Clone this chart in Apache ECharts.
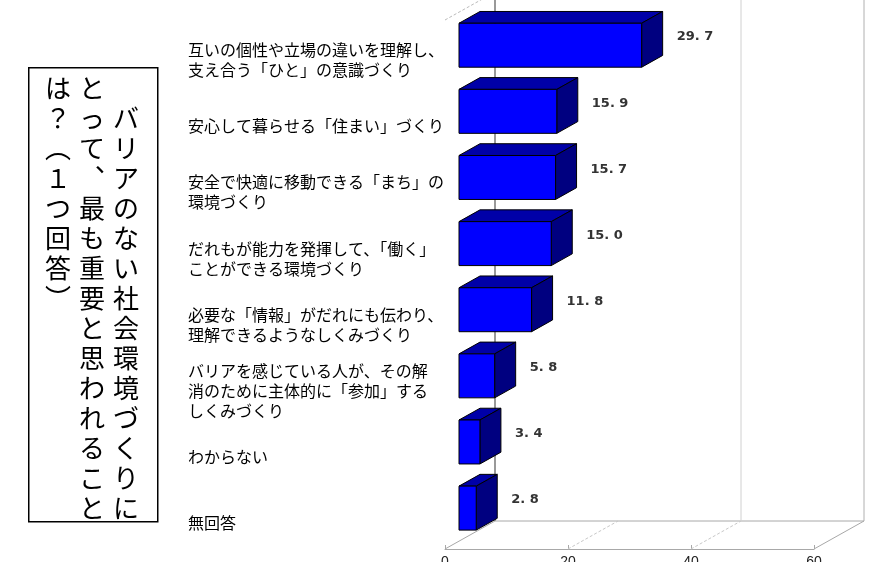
<!DOCTYPE html>
<html><head><meta charset="utf-8">
<script src="https://cdn.jsdelivr.net/npm/echarts@6/dist/echarts.min.js"></script>
<style>html,body{margin:0;padding:0;background:#fff;overflow:hidden}#c{width:875px;height:562px}</style>
</head><body><div id="c"></div>
<script>
const categories = [
  '互いの個性や立場の違いを理解し、\n支え合う「ひと」の意識づくり',
  '安心して暮らせる「住まい」づくり',
  '安全で快適に移動できる「まち」の\n環境づくり',
  'だれもが能力を発揮して、「働く」\nことができる環境づくり',
  '必要な「情報」がだれにも伝わり、\n理解できるようなしくみづくり',
  'バリアを感じている人が、その解\n消のために主体的に「参加」する\nしくみづくり',
  'わからない',
  '無回答'
];
const values = [29.7, 15.9, 15.7, 15.0, 11.8, 5.8, 3.4, 2.8];
const valueMin = 0, valueMax = 60, valueStep = 20;
const floorDashTicks = [20, 40];
const backWallTicks = [40, 60];
const titleColumns = ['　バリアのない社会環境づくりに', 'とって︑最も重要と思われること', 'は？︵１つ回答︶'];

const DX = 50, DY = -28;          // depth vector of the 3D box
const BF = 0.28, BB = 0.70;       // bar front / back depth fractions
const LABEL_GAP = 257, LABEL_DY = 7;

const chart = echarts.init(document.getElementById('c'));

function frameRender(params, api) {
  const cs = params.coordSys;
  const yF = cs.y + cs.height, yB = yF + DY;
  const lineStyle = {stroke: '#a8a8a8', lineWidth: 1};
  const children = [];
  const x0 = api.coord([valueMin, 0])[0];
  const xM = api.coord([valueMax, 0])[0];
  children.push({type: 'polyline', shape: {points: [[x0, yF], [x0 + DX, yB], [xM + DX, yB], [xM, yF]]}, style: Object.assign({fill: null}, lineStyle)});
  floorDashTicks.forEach(v => {
    const x = api.coord([v, 0])[0];
    children.push({type: 'line', shape: {x1: x, y1: yF, x2: x + DX, y2: yB}, style: {stroke: '#c8c8c8', lineWidth: 1, lineDash: [3, 2]}});
  });
  backWallTicks.forEach(v => {
    const x = api.coord([v, 0])[0] + DX;
    children.push({type: 'line', shape: {x1: x, y1: yB, x2: x, y2: cs.y + DY}, style: {stroke: v === valueMax ? '#b0b0b0' : '#d0d0d0', lineWidth: 1}});
  });
  children.push({type: 'line', shape: {x1: x0 + DX, y1: yB, x2: x0 + DX, y2: cs.y + DY}, style: {stroke: '#999', lineWidth: 2}});
  children.push({type: 'line', shape: {x1: x0, y1: cs.y, x2: x0 + DX, y2: cs.y + DY}, style: {stroke: '#bbb', lineWidth: 1, lineDash: [3, 2]}});
  return {type: 'group', children};
}

function barRender(params, api) {
  const i = api.value(0), v = api.value(1);
  const p0 = api.coord([0, i]);
  const p1 = api.coord([v, i]);
  const h = api.size([0, 1])[1] * 0.665;
  const fx = DX * BF, fy = DY * BF, bx = DX * BB, by = DY * BB;
  const xl = p0[0] + fx, xr = p1[0] + fx;
  const yt = p0[1] + fy - h / 2, yb = p0[1] + fy + h / 2;
  const ddx = bx - fx, ddy = by - fy;
  const edge = {stroke: '#000', lineWidth: 1};
  const label = v.toFixed(1).replace('.', '. ');
  return {type: 'group', children: [
    {type: 'polygon', shape: {points: [[xl, yt], [xr, yt], [xr + ddx, yt + ddy], [xl + ddx, yt + ddy]]}, style: Object.assign({fill: '#0000a8'}, edge)},
    {type: 'polygon', shape: {points: [[xr, yt], [xr + ddx, yt + ddy], [xr + ddx, yb + ddy], [xr, yb]]}, style: Object.assign({fill: '#000080'}, edge)},
    {type: 'rect', shape: {x: xl, y: yt, width: xr - xl, height: h}, style: Object.assign({fill: '#0000ff'}, edge)},
    {type: 'text', x: xr + ddx + 14, y: p0[1] - 16, style: {text: label, fill: '#333', font: 'bold 13px "DejaVu Sans"', textAlign: 'left', textVerticalAlign: 'middle'}},
    {type: 'text', x: p0[0] - LABEL_GAP, y: p0[1] + LABEL_DY, style: {text: categories[i], fill: '#000', font: '16px "Noto Sans CJK JP"', lineHeight: 20, textAlign: 'left', textVerticalAlign: 'middle'}}
  ]};
}

const graphics = [{type: 'rect', left: 28, top: 67, shape: {width: 129, height: 454}, style: {fill: '#fff', stroke: '#000', lineWidth: 1.5}}];
titleColumns.forEach((col, k) => {
  graphics.push({type: 'text', left: 113 - k * 34, top: 73,
    style: {text: Array.from(col).join('\n'), font: '26px "Noto Sans CJK JP"', lineHeight: 30, fill: '#000', textAlign: 'center'}});
});

chart.setOption({
  animation: false,
  backgroundColor: '#fff',
  grid: {left: 445, right: 61, top: 20, bottom: 13, containLabel: false, outerBoundsMode: 'none'},
  xAxis: {type: 'value', min: valueMin, max: valueMax, interval: valueStep,
    axisLine: {show: true, lineStyle: {color: '#a8a8a8'}},
    axisTick: {show: true, inside: true, length: 4, lineStyle: {color: '#a8a8a8'}},
    splitLine: {show: false},
    axisLabel: {margin: 6, fontSize: 14, color: '#222', fontFamily: 'Liberation Sans'}},
  yAxis: {type: 'category', inverse: true, data: categories,
    axisLine: {show: false}, axisTick: {show: false}, splitLine: {show: false},
    axisLabel: {show: false}},
  graphic: graphics,
  series: [
    {type: 'custom', renderItem: frameRender, data: [[0, 0]], z: 1, silent: true, clip: false},
    {type: 'custom', renderItem: barRender, data: values.map((v, i) => [i, v]), z: 2, clip: false,
      encode: {x: 1, y: 0}}
  ]
});
</script></body></html>
